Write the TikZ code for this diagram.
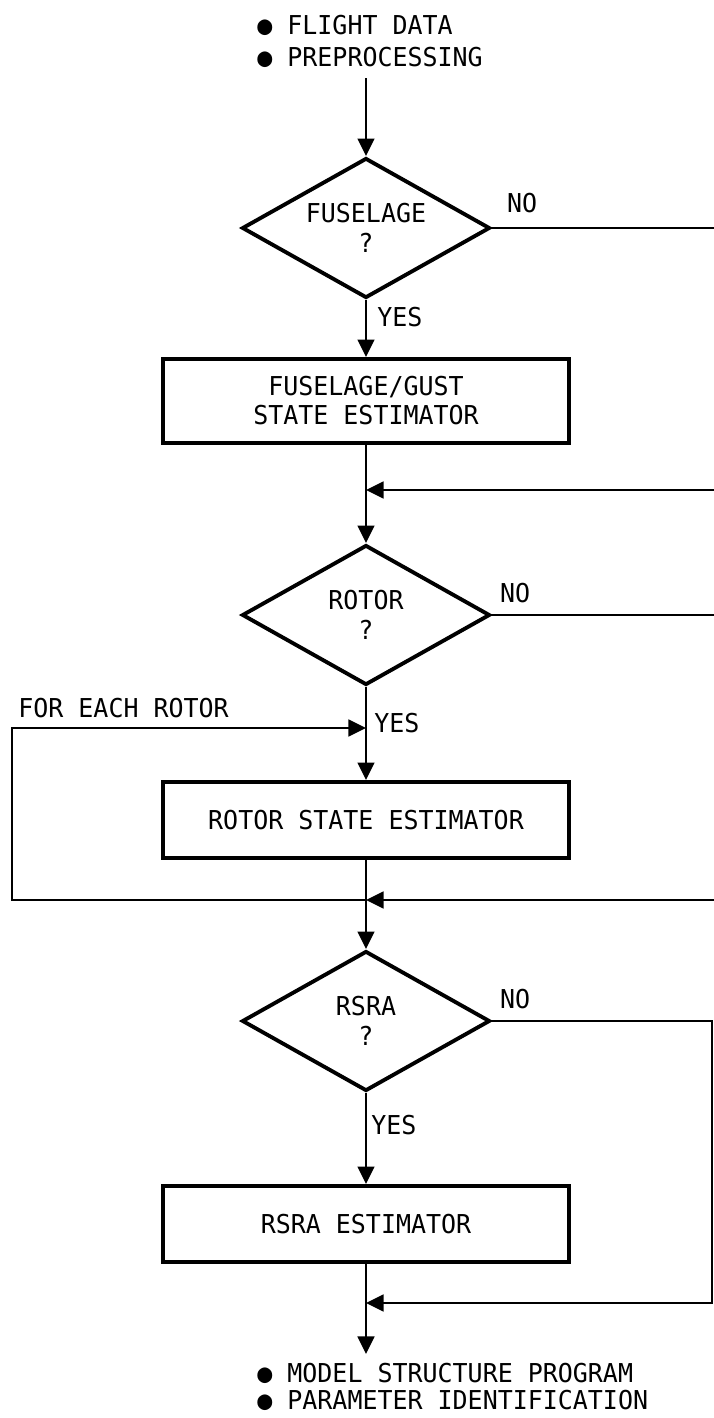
\documentclass[tikz,border=0pt]{standalone}
\usepackage{fontspec}
\usepackage{tikz}
\usetikzlibrary{shapes.geometric,arrows.meta}
\newfontfamily\chartfont[FakeStretch=0.96]{DejaVu Sans Mono}

\tikzset{
  decision/.style={diamond, aspect=1.77, draw, line width=2.2pt, minimum width=4.96cm, minimum height=2.8cm, inner sep=0pt, align=center},
  estimator/.style={rectangle, draw, line width=2.2pt, minimum width=8.12cm, align=center},
  flow/.style={line width=1.4pt},
  arr/.style={flow, -{Triangle[length=10pt,width=9.5pt]}},
  tag/.style={inner sep=0pt, anchor=west}
}

\begin{document}
\begin{tikzpicture}[x=0.02cm,y=-0.02cm,
  every node/.style={font=\chartfont\fontsize{14.8}{17}\selectfont}]
\useasboundingbox (0,0) rectangle (714,1418);

\node[tag, align=left, font=\chartfont\fontsize{14.8}{18.2}\selectfont] (in) at (257,41) {● FLIGHT DATA\\● PREPROCESSING};
\coordinate (intail) at (366,78);

\node[decision] (fus) at (366,228) {FUSELAGE\\?};
\node[estimator, minimum height=1.68cm, font=\chartfont\fontsize{14.8}{16.5}\selectfont] (fusbox) at (366,401) {FUSELAGE/GUST\\STATE ESTIMATOR};
\node[decision] (rot) at (366,615) {ROTOR\\?};
\node[estimator, minimum height=1.52cm] (rotbox) at (366,820) {ROTOR STATE ESTIMATOR};
\node[decision] (rsra) at (366,1021) {RSRA\\?};
\node[estimator, minimum height=1.52cm] (rsrabox) at (366,1224) {RSRA ESTIMATOR};
\node[tag, align=left, font=\chartfont\fontsize{14.8}{15.4}\selectfont] (out) at (257,1387) {● MODEL STRUCTURE PROGRAM\\● PARAMETER IDENTIFICATION};

\coordinate (j1) at (366,490);
\coordinate (j2) at (366,728);
\coordinate (j3) at (366,900);
\coordinate (j4) at (366,1303);
\coordinate (outtip) at (366,1354);
\coordinate (fusno) at (714,228);
\coordinate (rotin) at (714,490);
\coordinate (rotno) at (714,615);
\coordinate (rsrain) at (714,900);
\coordinate (rsrano) at (712,1021);
\coordinate (loop) at (12,728);

\draw[arr] (intail) -- (fus);
\draw[arr] (fus) -- (fusbox);
\node[tag] at (377,317) {YES};
\draw[flow] (fus.east) -- node[tag, anchor=south west, pos=0, xshift=8pt, yshift=8pt]{NO} (fusno);
\draw[arr] (fusbox) -- (rot);
\draw[arr] (rotin) -- (j1);

\draw[arr] (rot) -- (rotbox);
\node[tag] at (374,723) {YES};
\draw[flow] (rot.east) -- node[tag, anchor=south west, pos=0, xshift=4pt, yshift=6pt]{NO} (rotno);
\draw[arr] (j3) -| (loop) -- (j2);
\node[tag, anchor=base west] (each) at (18,717) {FOR EACH ROTOR};

\draw[arr] (rotbox) -- (rsra);
\draw[arr] (rsrain) -- (j3);

\draw[arr] (rsra) -- (rsrabox);
\node[tag] at (371,1125) {YES};
\draw[arr] (rsra.east) -- node[tag, anchor=south west, pos=0, xshift=4pt, yshift=6pt]{NO} (rsrano) |- (j4);
\draw[arr] (rsrabox) -- (outtip);
\end{tikzpicture}
\end{document}
